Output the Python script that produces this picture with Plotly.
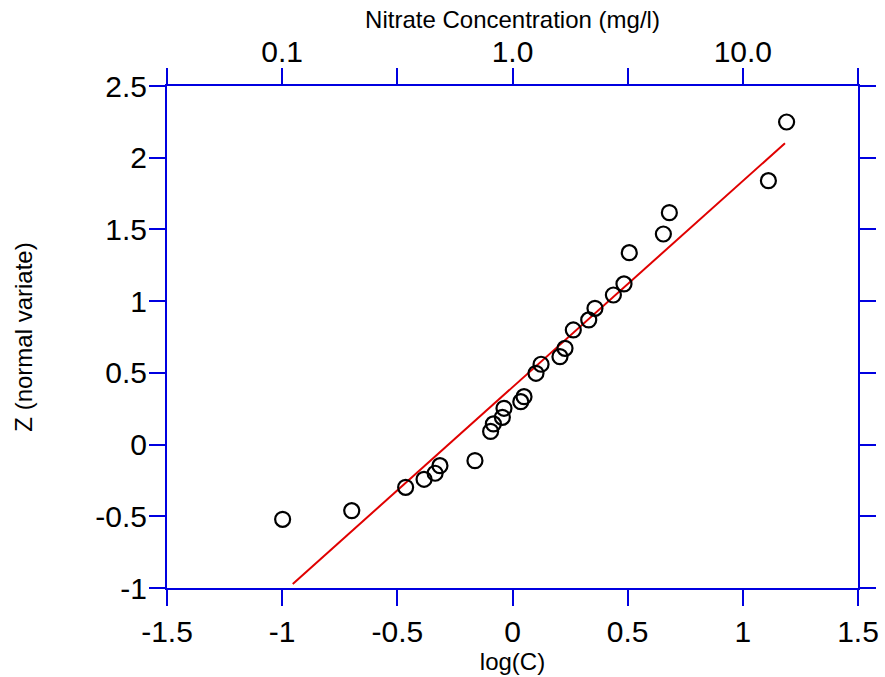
import plotly.graph_objects as go

# observed data: log10 of nitrate concentration vs normal variate
log_c = [-0.998, -0.698, -0.464, -0.384, -0.336, -0.315, -0.163, -0.095, -0.083,
         -0.044, -0.037, 0.036, 0.050, 0.102, 0.124, 0.206, 0.228, 0.264, 0.331,
         0.358, 0.438, 0.484, 0.507, 0.655, 0.681, 1.111, 1.190]
z_vals = [-0.521, -0.461, -0.298, -0.242, -0.200, -0.147, -0.112, 0.092, 0.144,
          0.190, 0.253, 0.299, 0.334, 0.497, 0.560, 0.613, 0.671, 0.799, 0.869,
          0.950, 1.043, 1.120, 1.338, 1.468, 1.617, 1.840, 2.249]

# fitted line endpoints
fit_x = [-0.954, 1.183]
fit_y = [-0.972, 2.101]

# axis ticks
x_tickvals = [-1.5, -1.0, -0.5, 0.0, 0.5, 1.0, 1.5]
x_ticktext = ["-1.5", "-1", "-0.5", "0", "0.5", "1", "1.5"]
y_tickvals = [-1.0, -0.5, 0.0, 0.5, 1.0, 1.5, 2.0, 2.5]
y_ticktext = ["-1", "-0.5", "0", "0.5", "1", "1.5", "2", "2.5"]
top_ticktext = ["", "0.1", "", "1.0", "", "10.0", ""]

BLUE = "#0000e0"
FONT = "Liberation Sans, Arial, Helvetica, sans-serif"
TICKSIZE = 30
TITLESIZE = 24

axis_common = dict(showgrid=False, zeroline=False, automargin=False,
                   showline=True, linecolor=BLUE, linewidth=2,
                   ticks="outside", ticklen=16, tickwidth=2, tickcolor=BLUE,
                   tickfont=dict(size=TICKSIZE, family=FONT, color="black"))

fig = go.Figure()
fig.add_trace(go.Scatter(x=fit_x, y=fit_y, mode="lines",
                         line=dict(color="#e00000", width=2), showlegend=False))
fig.add_trace(go.Scatter(x=log_c, y=z_vals, mode="markers",
                         marker=dict(symbol="circle-open", size=15,
                                     color="black", line=dict(width=2.2, color="black")),
                         showlegend=False))
fig.add_trace(go.Scatter(x=[None], y=[None], xaxis="x2", yaxis="y",
                         showlegend=False, hoverinfo="skip"))

fig.update_layout(
    width=885, height=677,
    margin=dict(l=167, r=27, t=86, b=89),
    plot_bgcolor="white", paper_bgcolor="white",
    font=dict(family=FONT, color="black"),
    xaxis=dict(range=[-1.5, 1.5], tickmode="array", tickvals=x_tickvals, ticktext=x_ticktext,
               title=dict(text="log(C)", font=dict(size=TITLESIZE, family=FONT), standoff=0),
               **axis_common),
    xaxis2=dict(range=[-1.5, 1.5], overlaying="x", side="top", anchor="y",
                tickmode="array", tickvals=x_tickvals, ticktext=top_ticktext,
                ticklabelstandoff=-6,
                title=dict(text="Nitrate Concentration (mg/l)",
                           font=dict(size=TITLESIZE, family=FONT), standoff=0),
                **axis_common),
    yaxis=dict(range=[-1, 2.5], tickmode="array", tickvals=y_tickvals, ticktext=y_ticktext,
               mirror="allticks", ticklabelstandoff=-4,
               title=dict(text="Z (normal variate)", font=dict(size=TITLESIZE, family=FONT), standoff=56),
               **axis_common),
)

fig.write_html("out.html")
